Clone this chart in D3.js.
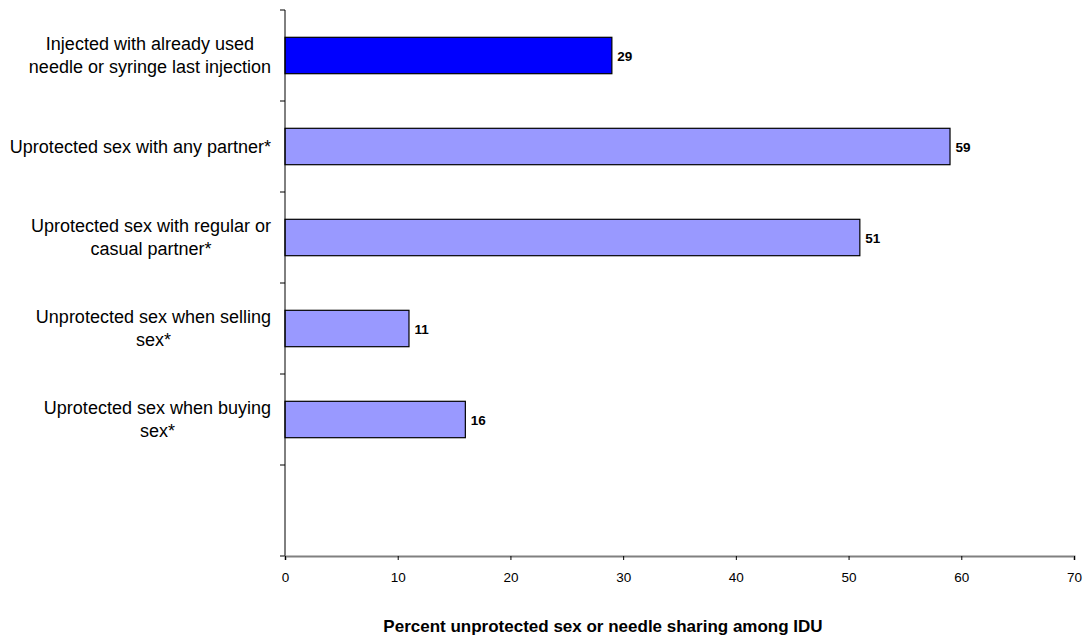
<!DOCTYPE html>
<html><head><meta charset="utf-8">
<script src="https://cdn.jsdelivr.net/npm/d3@7"></script>
<style>body{margin:0;background:#fff}svg{display:block;font-family:"Liberation Sans",Arial,sans-serif}</style>
</head><body>
<svg id="c" width="1086" height="638"></svg>
<script>
const categories = [
  ["Injected with already used", "needle or syringe last injection"],
  ["Uprotected sex with any partner*"],
  ["Uprotected sex with regular or", "casual partner*"],
  ["Unprotected sex when selling", "sex*"],
  ["Uprotected sex when buying", "sex*"],
  [""]
];
const values = [29, 59, 51, 11, 16, null];
const barColors = ["#0000ff", "#9999ff", "#9999ff", "#9999ff", "#9999ff", "#9999ff"];
const xTicks = [0, 10, 20, 30, 40, 50, 60, 70];
const xTitle = "Percent unprotected sex or needle sharing among IDU";

(function () {
const svg = d3.select("#c");
const pL = 285, pR = 1074, pT = 10, pB = 556;
const x = d3.scaleLinear().domain([0, 70]).range([pL, pR]);
const y = d3.scaleBand().domain(d3.range(categories.length)).range([pT, pB]);
const barH = y.bandwidth() * 0.4;

const bars = svg.append("g");
values.forEach((v, i) => {
  if (v == null) return;
  const cy = y(i) + y.bandwidth() / 2;
  bars.append("rect").attr("x", x(0)).attr("y", cy - barH / 2)
    .attr("width", x(v) - x(0)).attr("height", barH)
    .attr("fill", barColors[i]).attr("stroke", "#000").attr("stroke-width", 1.2);
  bars.append("text").attr("x", x(v) + 5.5).attr("y", cy + 5)
    .attr("font-size", 13.5).attr("font-weight", "bold").text(v);
});

svg.append("line").attr("x1", pL).attr("x2", pL).attr("y1", pT).attr("y2", pB).attr("stroke", "#000").attr("stroke-width", 1);
d3.range(categories.length + 1).forEach(i => {
  const yy = pT + i * y.step();
  svg.append("line").attr("x1", pL - 5).attr("x2", pL).attr("y1", yy).attr("y2", yy).attr("stroke", "#000");
});
categories.forEach((lines, i) => {
  const cy = y(i) + y.bandwidth() / 2;
  const lh = 23;
  const t = svg.append("text").attr("text-anchor", "middle").attr("font-size", 18).attr("fill", "#000");
  const spans = lines.map((l, j) =>
    t.append("tspan").attr("y", cy + 6 + (j - (lines.length - 1) / 2) * lh).text(l));
  const w = d3.max(spans, s => s.node().getComputedTextLength());
  spans.forEach(s => s.attr("x", 271 - w / 2));
});

const xa = svg.append("g").attr("transform", `translate(0,${pB})`)
  .call(d3.axisBottom(x).tickValues(xTicks).tickSize(4));
xa.select(".domain").attr("stroke", "#808080").attr("stroke-width", 2);
xa.selectAll(".tick line").attr("stroke", "#000");
xa.selectAll(".tick text").attr("font-size", 13.5).attr("y", 26).attr("dy", 0)
  .attr("font-family", "Liberation Sans, Arial, sans-serif").attr("fill", "#000");

svg.append("text").attr("x", 603).attr("y", 632).attr("text-anchor", "middle")
  .attr("font-size", 17).attr("font-weight", "bold").text(xTitle);
})();
</script>
</body></html>
